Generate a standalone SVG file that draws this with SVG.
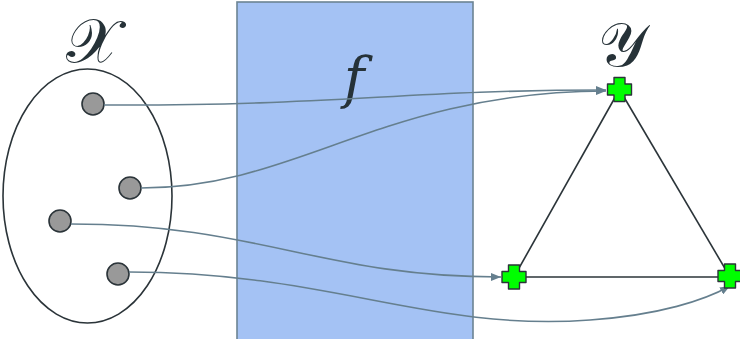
<svg xmlns="http://www.w3.org/2000/svg" width="740" height="339" viewBox="0 0 740 339">
<style>
.conn{fill:none;stroke:#657f8e;stroke-width:1.6}
.edge{stroke:#2b3439;stroke-width:1.6}
.dot{fill:#999;stroke:#2b3439;stroke-width:1.6}
.cross{fill:#00ff00;stroke:#2b3439;stroke-width:1.4;stroke-linejoin:round}
.lbl{font-family:"DejaVu Serif","Noto Sans",serif;fill:#263238;text-anchor:middle}
</style>
<defs>
<marker id="ah" viewBox="0 0 10 8" refX="10" refY="4" markerWidth="10" markerHeight="8" markerUnits="userSpaceOnUse" orient="auto">
<path d="M0,0 L10,4 L0,8 Z" fill="#657f8e"/>
</marker>
<path id="plus" d="M-5.5,-12 H5.5 V-5.5 H12 V5.5 H5.5 V12 H-5.5 V5.5 H-12 V-5.5 H-5.5 Z"/>
</defs>
<g id="f-box">
<rect x="237" y="2" width="236" height="345" fill="#a4c2f4" stroke="#6c8493" stroke-width="1.6"/>
<text class="lbl" x="354" y="97" font-size="56" font-style="italic" font-family="Liberation Serif, serif">f</text>
</g>
<g id="X-set">
<ellipse cx="87.5" cy="196" rx="84.5" ry="127" fill="none" stroke="#2b3439" stroke-width="1.6"/>
<text class="lbl" x="92" y="62" font-size="62">𝒳</text>
</g>
<g id="x1"><circle class="dot" cx="93" cy="104" r="11"/></g>
<g id="x2"><circle class="dot" cx="130" cy="188" r="11"/></g>
<g id="x3"><circle class="dot" cx="60" cy="221" r="11"/></g>
<g id="x4"><circle class="dot" cx="118" cy="274" r="11"/></g>
<g id="Y-label"><text class="lbl" x="622" y="66" font-size="62">𝒴</text></g>
<g id="graph-edges">
<line class="edge" x1="619.5" y1="89.5" x2="514" y2="277"/>
<line class="edge" x1="514" y1="277" x2="730" y2="277"/>
<line class="edge" x1="619.5" y1="89.5" x2="730" y2="277"/>
</g>
<g id="connectors">
<path class="conn" marker-end="url(#ah)" d="M104,105 C340,106 400,90 606,90"/>
<path class="conn" marker-end="url(#ah)" d="M141,188 C300,188 380,92 606,91"/>
<path class="conn" marker-end="url(#ah)" d="M71,224 C260,224 320,277 501,277"/>
<path class="conn" marker-end="url(#ah)" d="M129,272 C330,272 430,332 590,320 C660,315 705,300 730,286"/>
</g>
<g id="y1"><use href="#plus" class="cross" x="619.5" y="89.5"/></g>
<g id="y2"><use href="#plus" class="cross" x="514" y="277"/></g>
<g id="y3"><use href="#plus" class="cross" x="730" y="276"/></g>
</svg>
